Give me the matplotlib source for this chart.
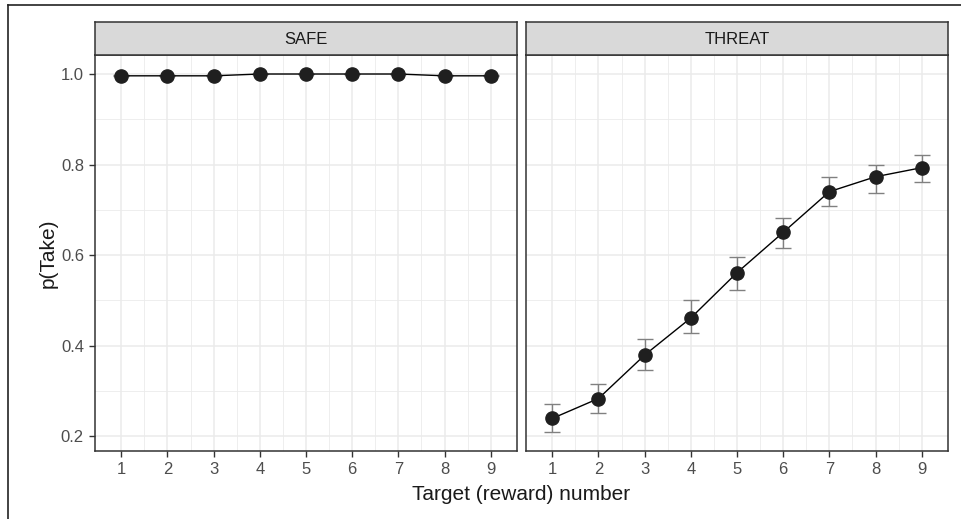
import matplotlib
matplotlib.use("Agg")
import matplotlib.pyplot as plt
from matplotlib.lines import Line2D
from matplotlib.patches import Rectangle

plt.rcParams['font.family'] = ['Liberation Sans', 'DejaVu Sans']

targets = [1, 2, 3, 4, 5, 6, 7, 8, 9]
conditions = ['SAFE', 'THREAT']

safe_mean = [0.996, 0.996, 0.996, 1.0, 1.0, 1.0, 1.0, 0.996, 0.996]
safe_lo = [0.995, 0.995, 0.995, 1.0, 1.0, 1.0, 1.0, 0.995, 0.995]
safe_hi = [0.997, 0.997, 0.997, 1.0, 1.0, 1.0, 1.0, 0.997, 0.997]

threat_mean = [0.239, 0.283, 0.379, 0.461, 0.561, 0.650, 0.740, 0.773, 0.793]
threat_lo = [0.209, 0.252, 0.346, 0.428, 0.523, 0.616, 0.708, 0.736, 0.761]
threat_hi = [0.271, 0.316, 0.414, 0.501, 0.596, 0.682, 0.772, 0.800, 0.822]

series = {
    'SAFE': (safe_mean, safe_lo, safe_hi),
    'THREAT': (threat_mean, threat_lo, threat_hi),
}

W, H = 961, 519
fig = plt.figure(figsize=(W / 100, H / 100), dpi=100)

# panel boxes in pixels: left, right, top, bottom
panels = [(95, 517), (526, 948)]
top, bottom, strip_top = 55, 451, 22

grid_major = '#EBEBEB'
border = '#333333'
tick_col = '#4D4D4D'

axes = []
for (x0, x1), cond in zip(panels, conditions):
    ax = fig.add_axes([x0 / W, 1 - bottom / H, (x1 - x0) / W, (bottom - top) / H])
    mean, lo, hi = series[cond]
    yerr = [[m - l for m, l in zip(mean, lo)], [h - m for m, h in zip(mean, hi)]]
    ax.errorbar(targets, mean, yerr=yerr, fmt='none', ecolor='#808080',
                elinewidth=1.0, capsize=6, capthick=1.0, zorder=3)
    ax.plot(targets, mean, color='black', lw=1.0, zorder=4)
    ax.plot(targets, mean, 'o', color='#1f1f1f', ms=9.5, zorder=5)

    ax.set_xlim(0.43, 9.57)
    ax.set_ylim(0.167, 1.042)
    ax.set_xticks(targets)
    ax.set_xticks([t + 0.5 for t in targets[:-1]], minor=True)
    ax.set_yticks([0.2, 0.4, 0.6, 0.8, 1.0])
    ax.set_yticks([0.3, 0.5, 0.7, 0.9], minor=True)
    ax.grid(which='major', color=grid_major, lw=1.1, zorder=0)
    ax.grid(which='minor', color=grid_major, lw=0.6, zorder=0)
    ax.set_axisbelow(True)
    for s in ax.spines.values():
        s.set_color(border)
        s.set_linewidth(1.1)
    ax.tick_params(which='major', length=4, width=1.0, color=border,
                   labelsize=12, labelcolor=tick_col, pad=4)
    ax.tick_params(which='minor', length=0)
    ax.set_xticklabels([str(t) for t in targets])
    if cond == 'SAFE':
        ax.set_yticklabels(['0.2', '0.4', '0.6', '0.8', '1.0'])
    else:
        ax.tick_params(axis='y', which='major', length=0, labelleft=False)

    # facet strip
    sx = fig.add_axes([x0 / W, 1 - top / H, (x1 - x0) / W, (top - strip_top) / H])
    sx.add_patch(Rectangle((0, 0), 1, 1, facecolor='#D9D9D9', edgecolor='none',
                           transform=sx.transAxes))
    sx.set_xticks([])
    sx.set_yticks([])
    for s in sx.spines.values():
        s.set_color(border)
        s.set_linewidth(1.1)
    sx.text(0.5, 0.48, cond, ha='center', va='center', fontsize=12,
            color='#1A1A1A', transform=sx.transAxes)
    axes.append(ax)

fig.text(48 / W, 1 - 253 / H, 'p(Take)', rotation=90, ha='center', va='center',
         fontsize=15, color='#1A1A1A')
fig.text(521 / W, 1 - 494 / H, 'Target (reward) number', ha='center', va='center',
         fontsize=15, color='#1A1A1A')

# outer frame on the top and left edges
fig.add_artist(Line2D([8 / W, 8 / W], [0, 1 - 5 / H], transform=fig.transFigure,
                      color='#222222', lw=1.2))
fig.add_artist(Line2D([8 / W, 1], [1 - 5 / H, 1 - 5 / H], transform=fig.transFigure,
                      color='#222222', lw=1.2))

fig.savefig('out.png', dpi=100, facecolor='white')
